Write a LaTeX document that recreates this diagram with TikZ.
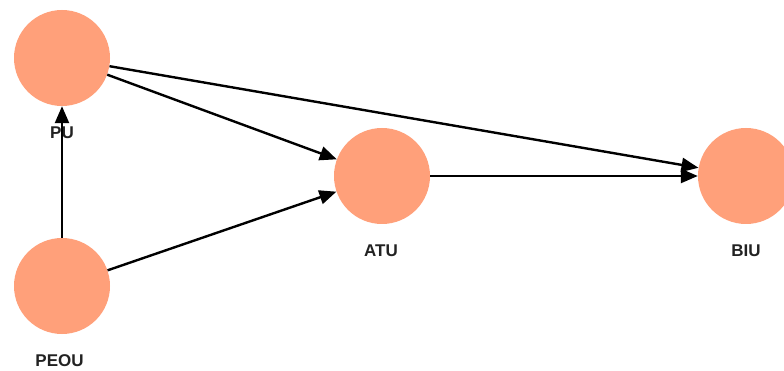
\documentclass[tikz,border=0pt]{standalone}
\usepackage{fontspec}
\setmainfont{Liberation Sans}
\usetikzlibrary{arrows.meta}
\definecolor{nodefill}{HTML}{FFA07A}
\definecolor{labeltext}{HTML}{222222}
\begin{document}
\begin{tikzpicture}[x=1pt,y=-1pt,
  construct/.style={circle,fill=nodefill,draw=none,minimum size=96pt,inner sep=0pt},
  tag/.style={font=\bfseries\fontsize{17}{17}\selectfont,text=labeltext,anchor=center},
  path/.style={draw=black,line width=2.4pt,-{Triangle[length=17pt,width=14pt]}}]
  \clip (0,0) rectangle (784,371);
  \fill[white] (0,0) rectangle (784,371);
  % constructs
  \node[construct] (pu)   at (62,58)   {};
  \node[construct] (peou) at (62,286)  {};
  \node[construct] (atu)  at (382,176) {};
  \node[construct] (biu)  at (746,176) {};
  % labels below each construct
  \node[tag] (pul)   at (62,133)  {PU};
  \node[tag] (peoul) at (59.5,361) {PEOU};
  \node[tag] (atul)  at (381,251) {ATU};
  \node[tag] (biul)  at (746,251) {BIU};
  % hypothesised paths
  \draw[path] (peou) -- (pu);
  \draw[path] (pu) -- (atu);
  \draw[path] (peou) -- (atu);
  \draw[path] (pu) -- (biu);
  \draw[path] (atu) -- (biu);
\end{tikzpicture}
\end{document}
